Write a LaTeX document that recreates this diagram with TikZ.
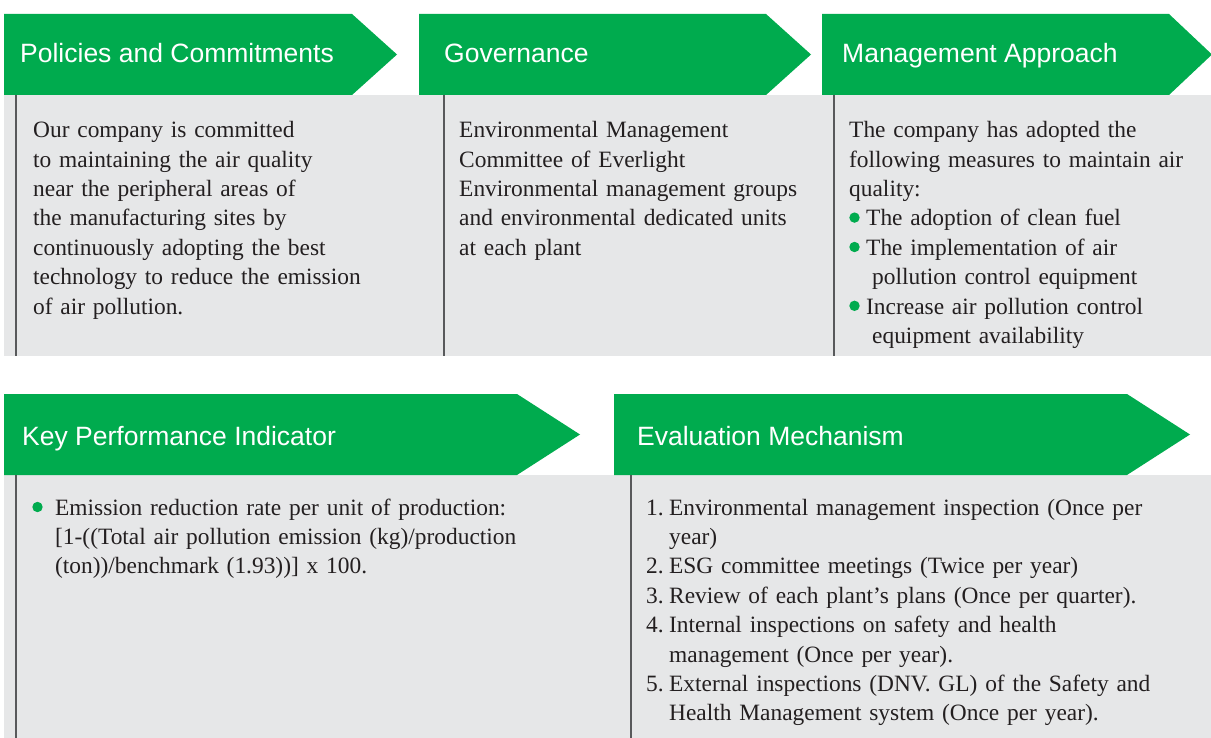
\documentclass[tikz,border=0pt]{standalone}
\usepackage{fontspec}
\setmainfont{Liberation Serif}
\setsansfont{Liberation Sans}
\definecolor{brand}{HTML}{00AB4E}
\definecolor{panel}{HTML}{E6E7E8}
\definecolor{rulegray}{HTML}{58595B}
\definecolor{ink}{HTML}{231F20}
\begin{document}
\begin{tikzpicture}[x=1bp,y=-1bp,
  header/.style={fill=brand},
  htext/.style={anchor=base west, inner sep=0pt, text=white, font=\sffamily\fontsize{26.5bp}{30bp}\selectfont},
  body/.style={anchor=base west, inner sep=0pt, text=ink, align=left, text width=560bp, font=\fontsize{23.4bp}{29.4bp}\selectfont},
  divider/.style={draw=rulegray, line width=1.6bp},
  gdot/.style={fill=brand}]
\useasboundingbox (0,0) rectangle (1211,738);
% panels
\fill[panel] (4,95) rectangle (1211,356);
\fill[panel] (4,475) rectangle (1211,738);
% header arrows
\fill[header] (4,14) -- (352,14) -- (397,54.5) -- (352,95) -- (4,95) -- cycle;
\fill[header] (419,14) -- (766,14) -- (811,54.5) -- (766,95) -- (419,95) -- cycle;
\fill[header] (822,14) -- (1169,14) -- (1212,54.5) -- (1169,95) -- (822,95) -- cycle;
\fill[header] (4,394) -- (517,394) -- (580,434.5) -- (517,475) -- (4,475) -- cycle;
\fill[header] (614,394) -- (1127,394) -- (1190,434.5) -- (1127,475) -- (614,475) -- cycle;
% dividers
\draw[divider] (16,95) -- (16,356);
\draw[divider] (444,95) -- (444,356);
\draw[divider] (834,95) -- (834,356);
\draw[divider] (16,475) -- (16,738);
\draw[divider] (631,475) -- (631,738);
% header texts
\node[htext] (h1) at (20,62.7) {Policies and Commitments};
\node[htext] (h2) at (444,62.7) {Governance};
\node[htext] (h3) at (842,62.7) {Management Approach};
\node[htext] (h4) at (22,445) {Key Performance Indicator};
\node[htext] (h5) at (637,445) {Evaluation Mechanism};
% body texts
\node[body] (b1) at (33,137.7) {Our company is committed\\
to maintaining the air quality\\
near the peripheral areas of\\
the manufacturing sites by\\
continuously adopting the best\\
technology to reduce the emission\\
of air pollution.};
\node[body] (b2) at (459,137.7) {Environmental Management\\
Committee of Everlight\\
Environmental management groups\\
and environmental dedicated units\\
at each plant};
\node[body] (b3) at (849,137.7) {The company has adopted the\\
following measures to maintain air\\
quality:\\
\hspace*{17bp}The adoption of clean fuel\\
\hspace*{17bp}The implementation of air\\
\hspace*{23bp}pollution control equipment\\
\hspace*{17bp}Increase air pollution control\\
\hspace*{23bp}equipment availability};
\fill[gdot] (854.5,217.6) circle (5.2bp);
\fill[gdot] (854.5,247) circle (5.2bp);
\fill[gdot] (854.5,305.8) circle (5.2bp);
\node[body] (b4) at (55,515) {Emission reduction rate per unit of production:\\
{[}1-((Total air pollution emission (kg)/production\\
(ton))/benchmark (1.93))] x 100.};
\fill[gdot] (37.5,507) circle (5.2bp);
\node[body] (b5) at (646,515) {\makebox[23bp][l]{1.}Environmental management inspection (Once per\\
\hspace*{23bp}year)\\
\makebox[23bp][l]{2.}ESG committee meetings (Twice per year)\\
\makebox[23bp][l]{3.}Review of each plant’s plans (Once per quarter).\\
\makebox[23bp][l]{4.}Internal inspections on safety and health\\
\hspace*{23bp}management (Once per year).\\
\makebox[23bp][l]{5.}External inspections (DNV. GL) of the Safety and\\
\hspace*{23bp}Health Management system (Once per year).};
\end{tikzpicture}
\end{document}
